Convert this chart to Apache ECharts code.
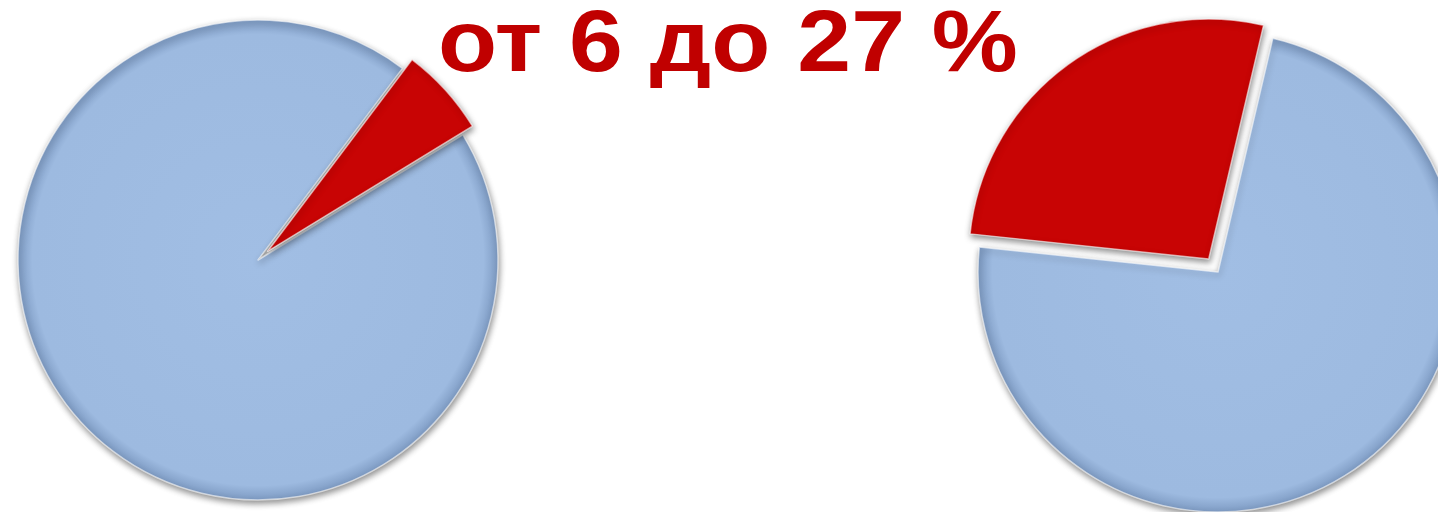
<!DOCTYPE html>
<html lang="ru">
<head>
    <meta charset="UTF-8">
    <script src="https://cdn.jsdelivr.net/npm/echarts@6/dist/echarts.min.js"></script>
    <title>от 6 до 27 %</title>
    <style>
        html, body { margin: 0; padding: 0; background: #fff; }
    </style>
</head>
<body>
<div id="main" style="width: 1438px;height:512px;"></div>
<script type="text/javascript">
        var myChart = echarts.init(document.getElementById('main'));

        // данные
        var sliceNames = ['доля', 'остальное'];
        var leftValues = [6, 94];
        var rightValues = [27, 73];
        var titleWords = ['от', '6', 'до', '27', '%'];

        var red = '#C80404';

        // голубой с затемнённым краем (как у фаски)
        function blueFill(cx, cy) {
            return {
                type: 'radial', x: cx, y: cy, r: 240, global: true,
                colorStops: [
                    { offset: 0, color: '#A1BEE4' },
                    { offset: 0.94, color: '#9DBAE0' },
                    { offset: 1, color: '#7E9BC3' }
                ]
            };
        }

        function makeData(values, cx, cy) {
            return values.map(function (v, i) {
                return {
                    name: sliceNames[i],
                    value: v,
                    selected: i === 0,
                    itemStyle: { color: i === 0 ? red : blueFill(cx, cy) }
                };
            });
        }

        function pieSeries(values, center, startAngle, offset) {
            return {
                type: 'pie',
                center: center,
                radius: 240,
                startAngle: startAngle,
                clockwise: true,
                selectedMode: 'single',
                selectedOffset: offset,
                silent: true,
                animation: false,
                label: { show: false },
                labelLine: { show: false },
                itemStyle: {
                    borderColor: 'rgba(255,255,255,0.6)',
                    borderWidth: 1.5,
                    shadowBlur: 6,
                    shadowOffsetX: 1,
                    shadowOffsetY: 3,
                    shadowColor: 'rgba(0,0,0,0.45)'
                },
                data: makeData(values, center[0], center[1])
            };
        }

        option = {
            backgroundColor: '#ffffff',
            graphic: [{
                type: 'text',
                x: 728,
                y: 3,
                scaleX: 1.1,
                silent: true,
                z: 10,
                style: {
                    text: titleWords.join(' '),
                    fontFamily: 'Liberation Sans, Arial, sans-serif',
                    fontWeight: 'bold',
                    fontSize: 88,
                    fill: '#C00000',
                    align: 'center',
                    verticalAlign: 'top'
                }
            }],
            series: [
                pieSeries(leftValues, [258, 260], 53, 13),
                pieSeries(rightValues, [1218, 272], 174, 16)
            ]
        };

        myChart.setOption(option);
    </script>
</body>
</html>
